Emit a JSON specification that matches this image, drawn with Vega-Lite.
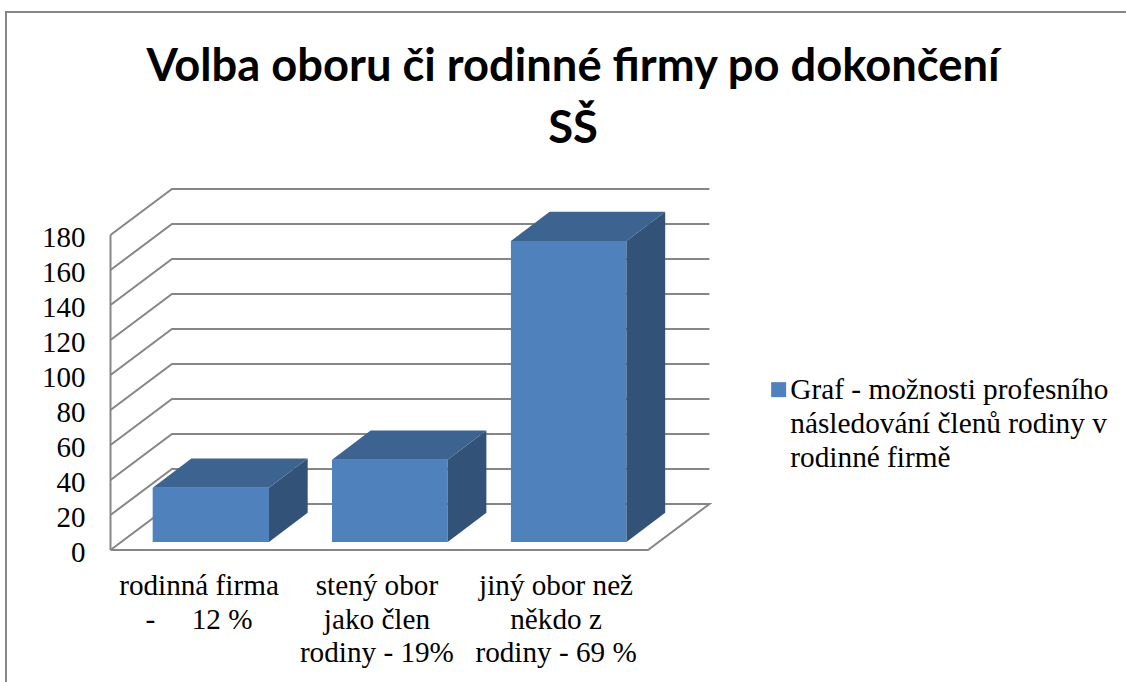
{
"$schema":"https://vega.github.io/schema/vega-lite/v6.json",
"width":1120,"height":670,
"autosize":{"type":"none"},
"padding":{"left":6,"top":12,"right":0,"bottom":0},
"background":"white",
"view":{"stroke":null},
"title":{"text":["Volba oboru či rodinné firmy po dokončení","SŠ"],"font":"Lato","fontWeight":"bold","fontSize":45.3,"lineHeight":62,"color":"#000000","anchor":"middle","dx":7,"offset":-144,"limit":1000},
"datasets":{
"grid":[
{"s":"frame","o":1,"x":-0.5832,"y":-75.43},{"s":"frame","o":2,"x":-0.5832,"y":307.43},{"s":"frame","o":3,"x":5.668,"y":307.43},
{"s":"wall","o":1,"x":0,"y":0},{"s":"wall","o":2,"x":0,"y":180},
{"s":"g0","o":1,"x":0,"y":0},{"s":"g0","o":2,"x":0.343,"y":26.3},{"s":"g0","o":3,"x":3.343,"y":26.3},{"s":"g0","o":4,"x":3,"y":0},{"s":"g0","o":5,"x":0,"y":0},
{"s":"g20","o":1,"x":0,"y":20},{"s":"g20","o":2,"x":0.343,"y":46.3},{"s":"g20","o":3,"x":3.343,"y":46.3},
{"s":"g40","o":1,"x":0,"y":40},{"s":"g40","o":2,"x":0.343,"y":66.3},{"s":"g40","o":3,"x":3.343,"y":66.3},
{"s":"g60","o":1,"x":0,"y":60},{"s":"g60","o":2,"x":0.343,"y":86.3},{"s":"g60","o":3,"x":3.343,"y":86.3},
{"s":"g80","o":1,"x":0,"y":80},{"s":"g80","o":2,"x":0.343,"y":106.3},{"s":"g80","o":3,"x":3.343,"y":106.3},
{"s":"g100","o":1,"x":0,"y":100},{"s":"g100","o":2,"x":0.343,"y":126.3},{"s":"g100","o":3,"x":3.343,"y":126.3},
{"s":"g120","o":1,"x":0,"y":120},{"s":"g120","o":2,"x":0.343,"y":146.3},{"s":"g120","o":3,"x":3.343,"y":146.3},
{"s":"g140","o":1,"x":0,"y":140},{"s":"g140","o":2,"x":0.343,"y":166.3},{"s":"g140","o":3,"x":3.343,"y":166.3},
{"s":"g160","o":1,"x":0,"y":160},{"s":"g160","o":2,"x":0.343,"y":186.3},{"s":"g160","o":3,"x":3.343,"y":186.3},
{"s":"g180","o":1,"x":0,"y":180},{"s":"g180","o":2,"x":0.343,"y":206.3},{"s":"g180","o":3,"x":3.343,"y":206.3}
],
"bars":[
{"series":"Graf - možnosti profesního|následování členů rodiny v|rodinné firmě","x":0.2355,"x2":0.8846,"y":31,"y2":0},
{"series":"Graf - možnosti profesního|následování členů rodiny v|rodinné firmě","x":1.2363,"x2":1.882,"y":47,"y2":0},
{"series":"Graf - možnosti profesního|následování členů rodiny v|rodinné firmě","x":2.235,"x2":2.88,"y":172,"y2":0}
],
"sides":[
{"b":"a","x":0.8846,"y":31,"y2":0},{"b":"a","x":1.1006,"y":47.7,"y2":16.7},
{"b":"b","x":1.882,"y":47,"y2":0},{"b":"b","x":2.098,"y":63.7,"y2":16.7},
{"b":"c","x":2.88,"y":172,"y2":0},{"b":"c","x":3.096,"y":188.7,"y2":16.7}
],
"tops":[
{"b":"a","y":31,"x":0.2355,"x2":0.8846},{"b":"a","y":47.7,"x":0.4515,"x2":1.1006},
{"b":"b","y":47,"x":1.2363,"x2":1.882},{"b":"b","y":63.7,"x":1.4523,"x2":2.098},
{"b":"c","y":172,"x":2.235,"x2":2.88},{"b":"c","y":188.7,"x":2.451,"x2":3.096}
],
"cats":[
{"label":"rodinná firma\n-\u00a0\u00a0\u00a0\u00a0\u00a012 %","x":0.494,"y":-12.6},
{"label":"stený obor\njako člen\nrodiny - 19%","x":1.487,"y":-12.6},
{"label":"jiný obor než\nněkdo z\nrodiny - 69 %","x":2.487,"y":-12.6}
]
},
"encoding":{
"x":{"field":"x","type":"quantitative","scale":{"domain":[-0.5832,5.668],"nice":false,"zero":false},"axis":null},
"y":{"field":"y","type":"quantitative","scale":{"domain":[-75.43,307.43],"nice":false,"zero":false},
"axis":{"title":null,"values":[0,20,40,60,80,100,120,140,160,180],"domain":false,"ticks":false,"grid":false,"offset":-79,"labelPadding":0,"labelOffset":2.5,"labelFont":"Liberation Serif","labelFontSize":29,"labelColor":"#000000"}}
},
"layer":[
{"data":{"name":"grid"},"mark":{"type":"line","color":"#868686","strokeWidth":2,"clip":false},
 "encoding":{"detail":{"field":"s"},"order":{"field":"o","type":"quantitative"}}},
{"data":{"name":"bars"},"mark":{"type":"rect","yOffset":-8,"y2Offset":-8},
 "encoding":{"x2":{"field":"x2"},"y2":{"field":"y2"},
 "color":{"field":"series","type":"nominal","scale":{"range":["#4f81bd"]},
 "legend":{"title":null,"orient":"none","legendX":758,"legendY":363,"symbolType":"square","symbolSize":225,"symbolStrokeWidth":0,"symbolOpacity":1,"labelFont":"Liberation Serif","labelFontSize":29.3,"labelColor":"#000000","labelLimit":400,"labelOffset":-3,"labelExpr":"split(datum.label,'|')","encoding":{"labels":{"lineHeight":{"value":34}}}}}}},
{"data":{"name":"sides"},"mark":{"type":"area","yOffset":-8,"y2Offset":-8,"color":"#325278","orient":"vertical"},
 "encoding":{"y2":{"field":"y2"},"detail":{"field":"b"}}},
{"data":{"name":"tops"},"mark":{"type":"area","yOffset":-8,"color":"#3d6390","orient":"horizontal"},
 "encoding":{"x2":{"field":"x2"},"detail":{"field":"b"}}},
{"data":{"name":"cats"},"mark":{"type":"text","font":"Liberation Serif","fontSize":29.2,"color":"#000000","lineBreak":"\n","lineHeight":33.5,"baseline":"top","align":"center"},
 "encoding":{"text":{"field":"label"}}}
]
}
